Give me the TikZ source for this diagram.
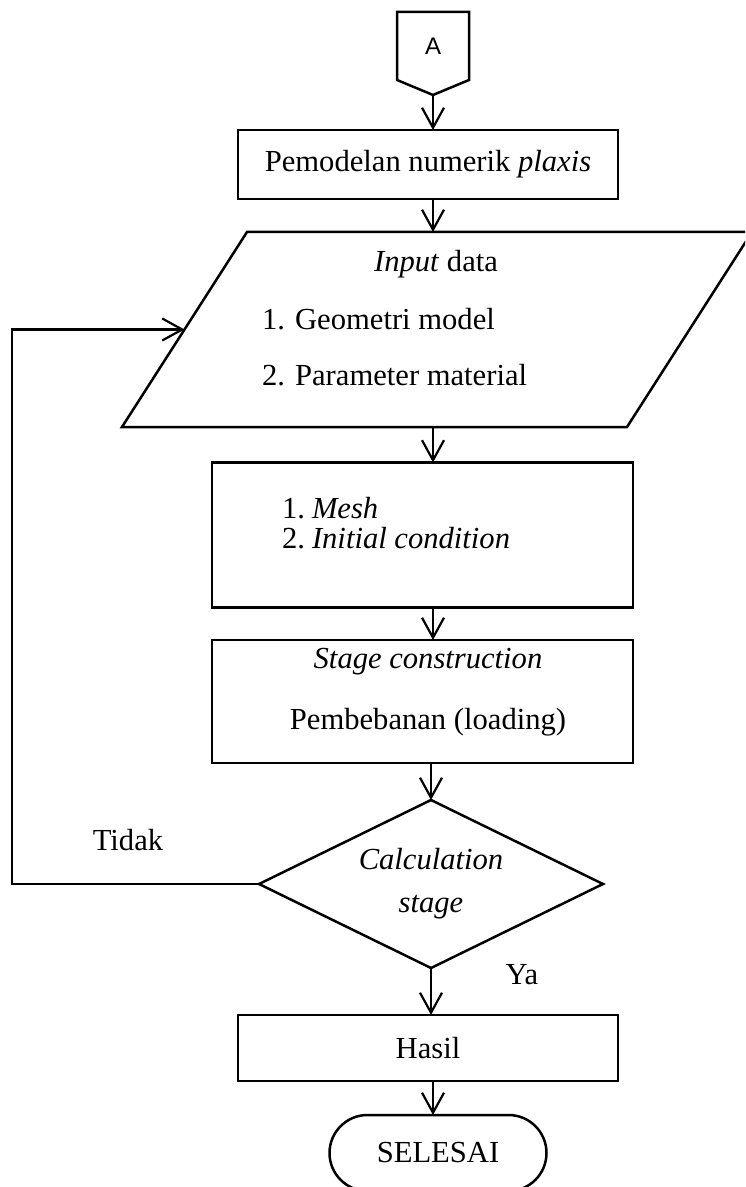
\documentclass[tikz,border=0pt]{standalone}
\usepackage{fontspec}
\setmainfont{Liberation Serif}
\newfontfamily\sansA{Liberation Sans}
\usetikzlibrary{shapes.geometric,shapes.misc,arrows.meta,calc}
\begin{document}
\begin{tikzpicture}[x=0.5pt,y=-0.5pt,
  line width=1.25pt,
  every node/.style={font=\fontsize{15.3}{15.3}\selectfont, inner sep=0pt, outer sep=0pt},
  box/.style={draw, rectangle},
  arr/.style={-{Straight Barb[length=10pt,width=11pt,line width=1.1pt]}},
  lbl/.style={},
]
\useasboundingbox (0,0) rectangle (745,1187);
\clip (0,0) rectangle (745,1187);
\coordinate (ax) at (433,0);
\coordinate (fb) at (12,0);

% off-page connector
\draw (397,12) -- (469,12) -- (469,80) -- (433,95) -- (397,80) -- cycle;
\node[font=\sansA\fontsize{12}{12}\selectfont] (A) at (433,46) {A};
\coordinate (Atip) at (433,95);

\node[box, minimum width=190pt, minimum height=34.5pt] (b1) at (428,164.5) {Pemodelan numerik \textit{plaxis}};

% input parallelogram
\coordinate (pTL) at (247,232);
\coordinate (pTR) at (752,232);
\coordinate (pBR) at (627,427);
\coordinate (pBL) at (122,427);
\draw (pTL) -- (pTR) -- (pBR) -- (pBL) -- cycle;
\coordinate (pN) at (433,232);
\coordinate (pS) at (433,427);
\coordinate (pW) at ($(pTL)!0.5!(pBL)$);
\node[lbl] (pin) at (436,264) {\textit{Input} data};
\node[lbl, anchor=west] (pg) at (262,319) {1. Geometri model};
\node[lbl, anchor=west] (pm) at (262,375) {2. Parameter material};

\node[box, minimum width=210.5pt, minimum height=72.5pt] (b2) at (422.5,535) {};
\node[lbl, anchor=west, align=left] (b2t) at (282,523)
  {\makebox[15pt][l]{1.}\textit{Mesh}\\ \makebox[15pt][l]{2.}\textit{Initial condition}};

\node[box, minimum width=210.5pt, minimum height=61.5pt] (b3) at (422.5,701.5) {};
\node[lbl] (b3a) at (428,662) {\textit{Stage construction}};
\node[lbl] (b3b) at (428,722) {Pembebanan (loading)};

\node[draw, diamond, aspect=2.05, minimum width=172pt, minimum height=84pt, align=center,
      font=\fontsize{15.3}{21.5}\selectfont] (d) at (431,884) {\textit{Calculation}\\ \textit{stage}};

\node[box, minimum width=190pt, minimum height=33pt] (h) at (428,1048) {Hasil};
\node[draw, rounded rectangle, minimum width=108.5pt, minimum height=38pt] (s) at (438,1153) {SELESAI};

\node[lbl] (tidak) at (128,840) {Tidak};
\node[lbl] (ya) at (522,975) {Ya};

\draw[arr] (Atip) -- (b1.north -| Atip);
\draw[arr] (b1.south -| ax) -- (pN);
\draw[arr] (pS) -- (b2.north -| ax);
\draw[arr] (b2.south -| ax) -- (b3.north -| ax);
\draw[arr] (b3.south -| d.north) -- (d.north);
\draw[arr] (d.south) -- (h.north -| d.south);
\draw[arr] (h.south -| ax) -- (s.north -| ax);
\draw[arr] (d.west) -- (d.west -| fb) |- (pW);
\end{tikzpicture}
\end{document}
